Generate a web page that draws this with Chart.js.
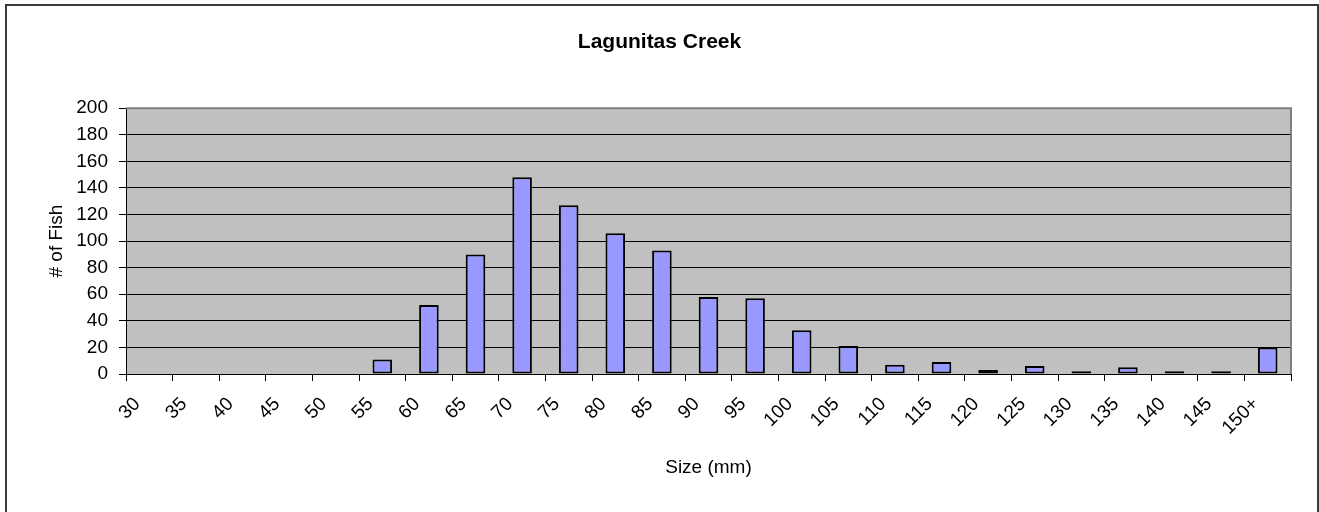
<!DOCTYPE html>
<html>
<head>
<meta charset="utf-8">
<script src="https://cdn.jsdelivr.net/npm/chart.js@4"></script>
<style>
  html, body { margin: 0; padding: 0; background: #ffffff; }
  #wrap { width: 1319px; height: 512px; position: relative; }
</style>
</head>
<body>
<div id="wrap"><canvas id="c" width="1319" height="512"></canvas></div>
<script>
const categories = ["30","35","40","45","50","55","60","65","70","75","80","85","90","95","100","105","110","115","120","125","130","135","140","145","150+"];
const fishCounts = [0,0,0,0,0,11,52,90,148,127,106,93,58,57,33,21,7,9,3,6,2,5,2,2,20];
const yTickMin = 0;
const yTickMax = 200;
const yTickStep = 20;

const FONT = "'Liberation Sans', Arial, sans-serif";

const decor = {
  id: 'decor',
  beforeDraw(chart) {
    const {ctx, chartArea: a} = chart;
    ctx.save();
    ctx.fillStyle = '#ffffff';
    ctx.fillRect(0, 0, chart.width, chart.height);
    ctx.fillStyle = '#C0C0C0';
    ctx.fillRect(a.left, a.top, a.right - a.left, a.bottom - a.top);
    ctx.restore();
  },
  afterDatasetsDraw(chart) {
    const {ctx, chartArea: a} = chart;
    ctx.save();
    ctx.strokeStyle = '#808080';
    ctx.lineWidth = 2;
    ctx.beginPath();
    ctx.moveTo(a.left, a.top);
    ctx.lineTo(a.right, a.top);
    ctx.lineTo(a.right, a.bottom);
    ctx.stroke();
    ctx.restore();
  },
  afterDraw(chart) {
    const {ctx} = chart;
    ctx.save();
    ctx.strokeStyle = '#3a3a3a';
    ctx.lineWidth = 2;
    ctx.strokeRect(6, 5, 1312, 600);
    ctx.restore();
  }
};

new Chart(document.getElementById('c'), {
  type: 'bar',
  data: {
    labels: categories,
    datasets: [{
      data: fishCounts,
      backgroundColor: '#9999FF',
      borderColor: '#000000',
      borderWidth: 2,
      borderSkipped: false,
      barPercentage: 0.42,
      categoryPercentage: 1.0
    }]
  },
  options: {
    responsive: false,
    animation: false,
    devicePixelRatio: 1,
    layout: { padding: { left: 0, right: 0, top: 0, bottom: 0 } },
    plugins: {
      legend: { display: false },
      tooltip: { enabled: false },
      title: {
        display: true,
        text: 'Lagunitas Creek',
        color: '#000000',
        font: { family: FONT, size: 21, weight: 'bold', lineHeight: 1.2 },
        padding: { top: 30, bottom: 53 }
      }
    },
    scales: {
      x: {
        type: 'category',
        offset: true,
        grid: {
          offset: true,
          drawOnChartArea: false,
          drawTicks: true,
          tickLength: 7,
          color: '#000000',
          lineWidth: 1
        },
        border: { display: true, color: '#000000', width: 1 },
        ticks: {
          autoSkip: false,
          minRotation: 45,
          maxRotation: 45,
          color: '#000000',
          padding: 12,
          labelOffset: -12,
          font: { family: FONT, size: 19 }
        },
        title: {
          display: true,
          text: 'Size (mm)',
          color: '#000000',
          font: { family: FONT, size: 19, lineHeight: 1.2 },
          padding: { top: 4, bottom: 33 }
        },
        afterFit(scale) {
          scale.height = 138;
          scale.paddingRight = 28;
        }
      },
      y: {
        min: yTickMin,
        max: yTickMax,
        grid: {
          drawOnChartArea: true,
          drawTicks: true,
          tickLength: 7,
          color: '#000000',
          lineWidth: 1
        },
        border: { display: true, color: '#000000', width: 1 },
        ticks: {
          stepSize: yTickStep,
          color: '#000000',
          padding: 11,
          font: { family: FONT, size: 19 }
        },
        title: {
          display: true,
          text: '# of Fish',
          color: '#000000',
          font: { family: FONT, size: 19, lineHeight: 1.2 },
          padding: { top: 45, bottom: 0 }
        },
        afterFit(scale) {
          scale.width = 126;
        }
      }
    }
  },
  plugins: [decor]
});
</script>
</body>
</html>
